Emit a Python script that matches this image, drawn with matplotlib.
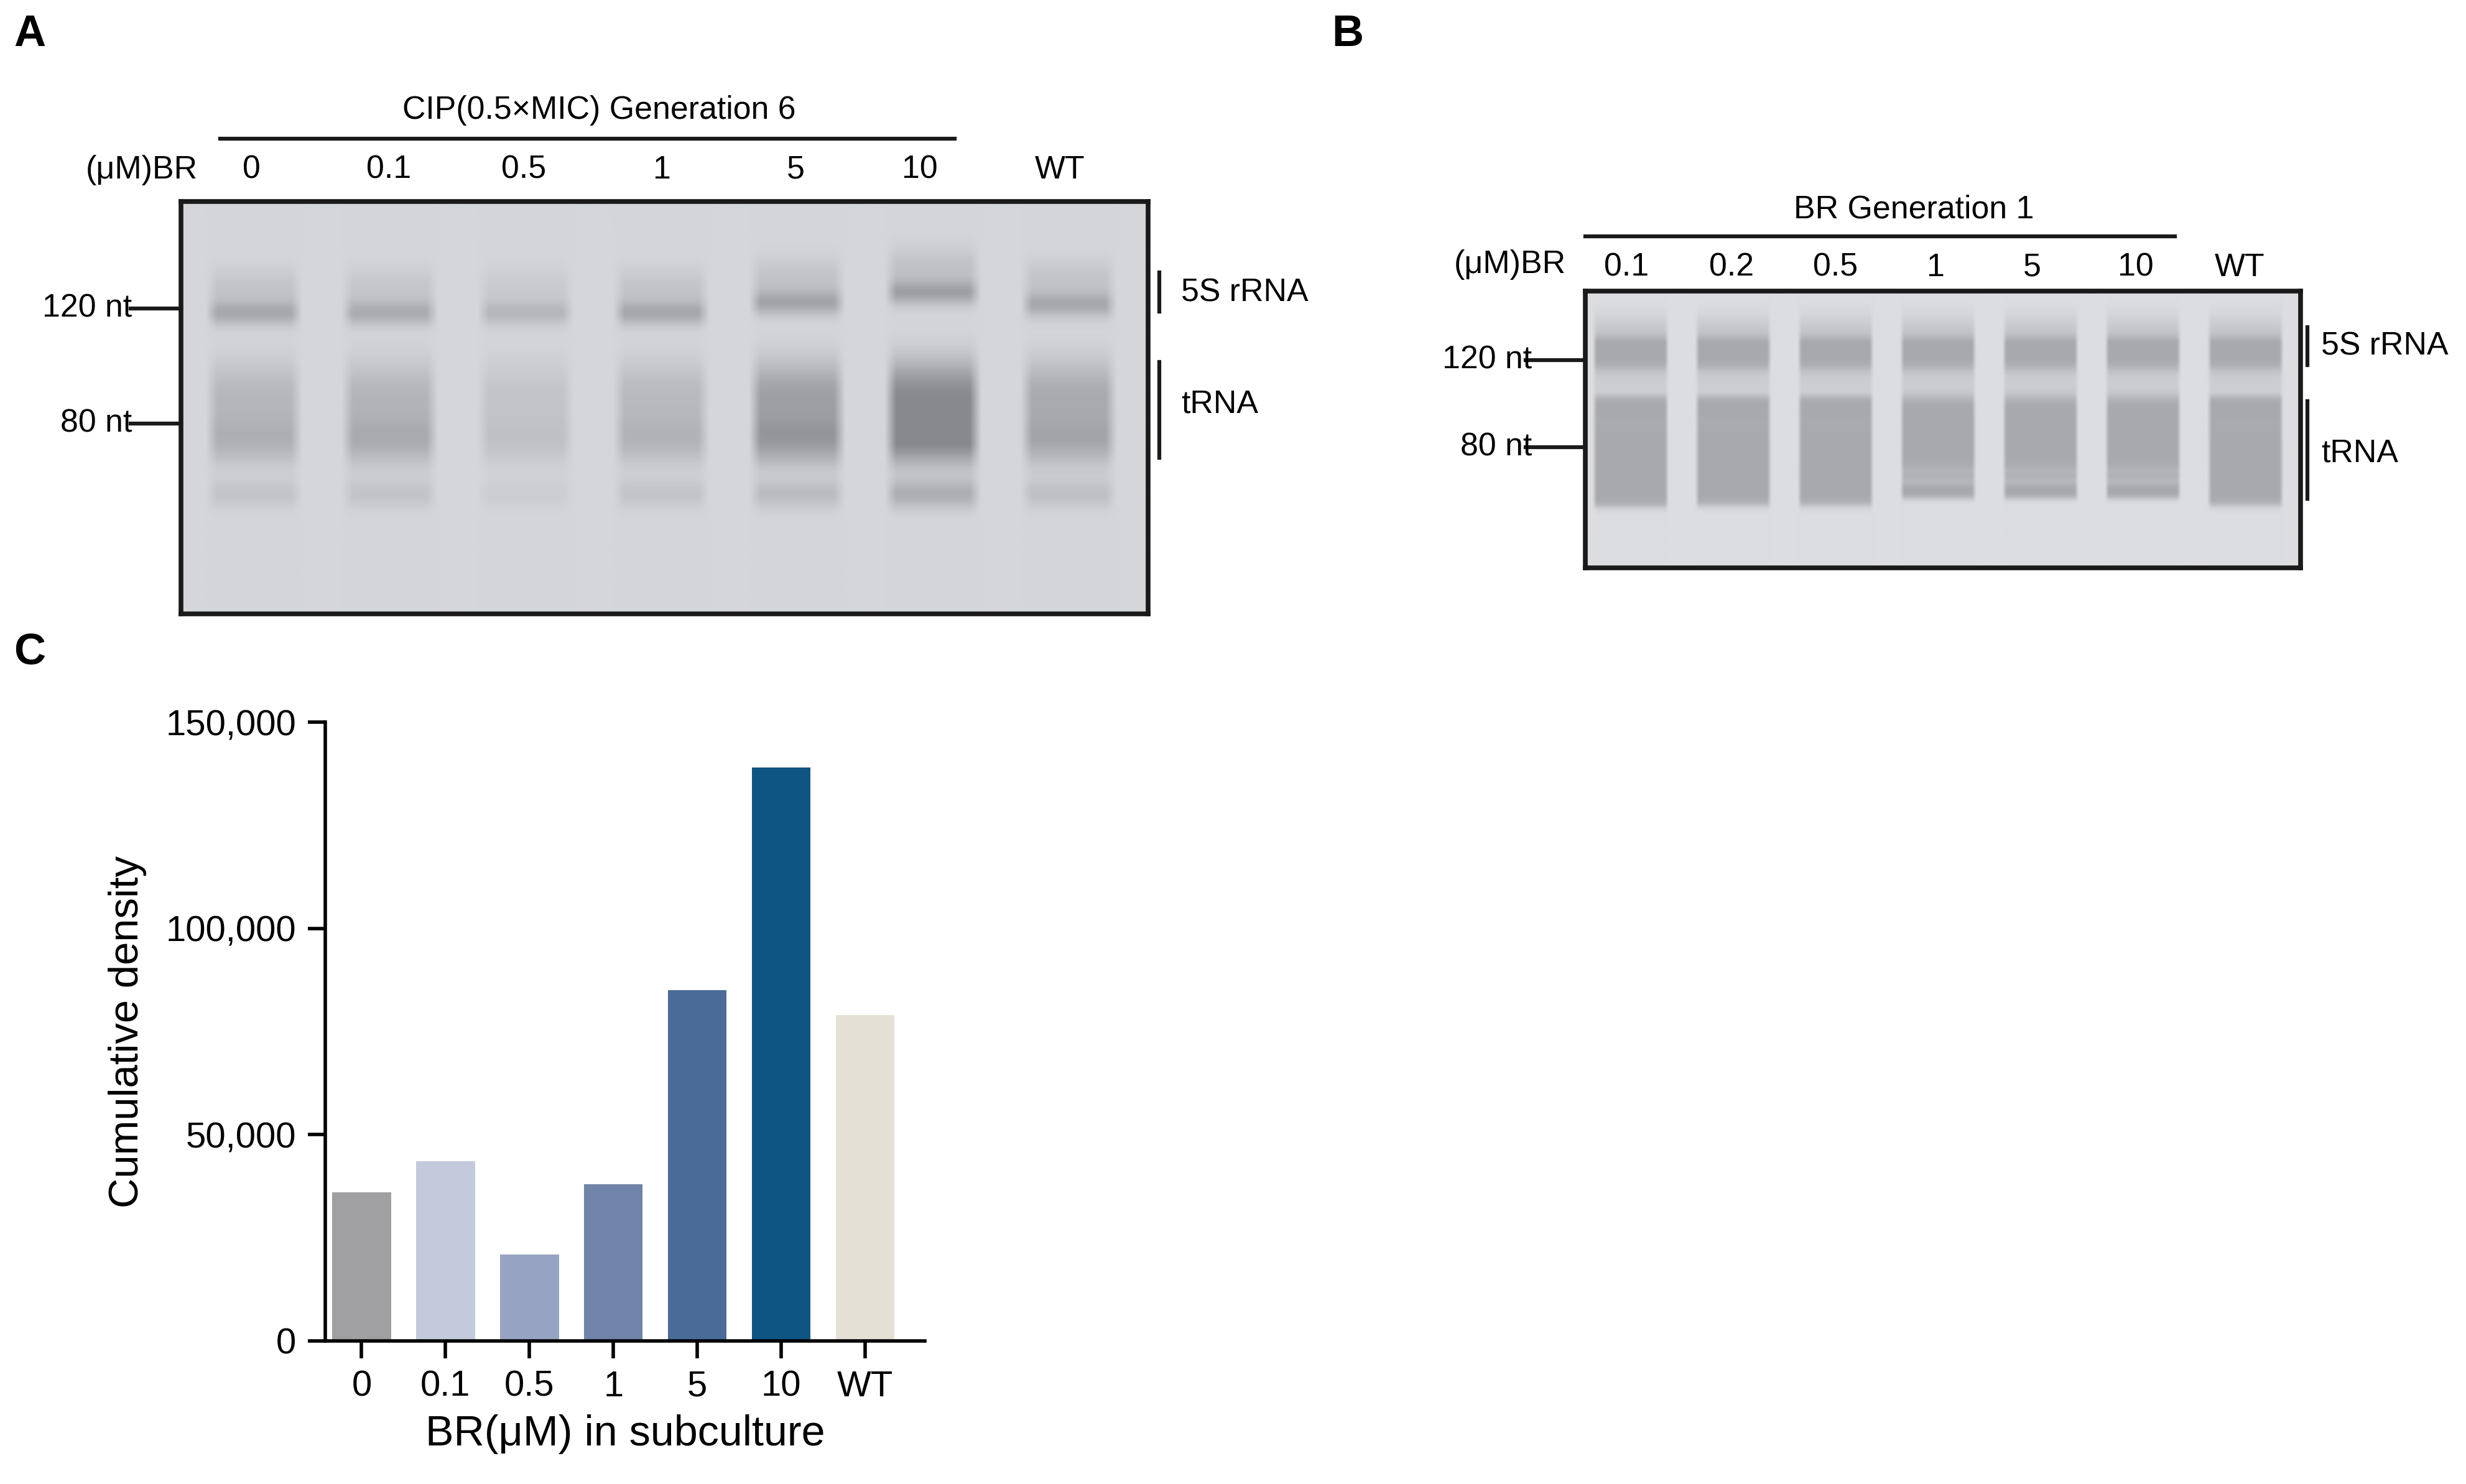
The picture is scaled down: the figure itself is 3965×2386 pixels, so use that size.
import numpy as np
import matplotlib.pyplot as plt

plt.rcParams['font.family'] = ['Liberation Sans', 'DejaVu Sans']

# ---- data ----
# panel C
bar_labels = ['0', '0.1', '0.5', '1', '5', '10', 'WT']
bar_values = [36000, 43500, 21000, 38000, 85000, 139000, 79000]
bar_colors = ['#a0a0a2', '#c4c9dc', '#97a3c2', '#7084a9', '#4a6b98', '#0f5584', '#e4e0d6']
y_ticks = [0, 50000, 100000, 150000]

# panel A gel: lane labels and band strengths (5S, tRNA upper, tRNA lower, low band)
gelA_lanes = ['0', '0.1', '0.5', '1', '5', '10', 'WT']
gelA_5s_pos = [0.27, 0.27, 0.27, 0.27, 0.245, 0.22, 0.25]
gelA_5s = [0.60, 0.55, 0.40, 0.60, 0.65, 0.70, 0.60]
gelA_t1 = [0.30, 0.32, 0.18, 0.28, 0.55, 0.80, 0.45]
gelA_t2 = [0.40, 0.45, 0.22, 0.36, 0.65, 0.85, 0.50]
gelA_low = [0.25, 0.25, 0.12, 0.25, 0.35, 0.55, 0.30]

# panel B gel: lane labels and bottom edge of tRNA smear
gelB_lanes = ['0.1', '0.2', '0.5', '1', '5', '10', 'WT']
gelB_bottom = [0.78, 0.775, 0.775, 0.75, 0.75, 0.75, 0.775]
gelB_split = [False, False, False, True, True, True, False]

W, H = 1568, 943
S = 3965 / W
def fs(px):
    return px * S * 0.72

fig = plt.figure(figsize=(39.65, 23.86), dpi=100)

def frac_box(x0, y0, x1, y1):
    return [x0 / W, 1 - y1 / H, (x1 - x0) / W, (y1 - y0) / H]

def lane_mask(xx, c, w, soft=0.006):
    return np.clip((w / 2 - np.abs(xx - c)) / soft, 0, 1)

def smooth_step(yy, a, b, soft=0.012):
    return 1 / (1 + np.exp(-(yy - a) / soft)) * 1 / (1 + np.exp((yy - b) / soft))

# ---- gel A ----
ny, nx = 400, 800
yy, xx = np.mgrid[0:1:ny * 1j, 0:1:nx * 1j]
img = np.full((ny, nx), 212.0)
for i in range(7):
    c = 0.075 + i * 0.1405
    m = lane_mask(xx, c, 0.1, 0.012)
    p5 = gelA_5s_pos[i]
    prof = (gelA_5s[i] * np.exp(-((yy - p5) / 0.03) ** 2)
            + 0.4 * gelA_5s[i] * np.exp(-((yy - p5 + 0.06) / 0.05) ** 2)
            + gelA_t1[i] * np.exp(-((yy - 0.46) / 0.08) ** 2)
            + gelA_t2[i] * np.exp(-((yy - 0.58) / 0.06) ** 2)
            + 0.4 * gelA_t2[i] * np.exp(-((yy - 0.52) / 0.1) ** 2)
            + gelA_low[i] * np.exp(-((yy - 0.71) / 0.035) ** 2))
    img -= 70 * np.clip(prof, 0, 1.1) * m
axA = fig.add_axes(frac_box(115, 128, 730, 390))
rgb = np.stack([img, img + 2, img + 6], axis=-1) / 255
axA.imshow(np.clip(rgb, 0, 1), aspect='auto', extent=(0, 1, 1, 0))
axA.set_xticks([]); axA.set_yticks([])
for sp in axA.spines.values():
    sp.set_linewidth(5.5)
    sp.set_color('#1a1a1a')

# ---- gel B ----
img = np.full((ny, nx), 220.0)
for i in range(7):
    c = 0.063 + i * 0.1433
    m = lane_mask(xx, c, 0.107)
    prof = (smooth_step(yy, 0.17, 0.285) + 0.45 * smooth_step(yy, 0.10, 0.18, 0.02)
            + 0.3 * smooth_step(yy, 0.29, 0.37))
    if gelB_split[i]:
        prof += smooth_step(yy, 0.38, 0.66) + 0.6 * smooth_step(yy, 0.66, 0.70, 0.006) \
            + smooth_step(yy, 0.70, gelB_bottom[i], 0.006)
    else:
        prof += smooth_step(yy, 0.38, gelB_bottom[i], 0.008) - 0.05 * smooth_step(yy, 0.45, 0.5)
    img -= 52 * np.clip(prof, 0, 1) * m
axB = fig.add_axes(frac_box(1008, 185, 1463, 361))
rgb = np.stack([img, img + 1, img + 4], axis=-1) / 255
axB.imshow(np.clip(rgb, 0, 1), aspect='auto', extent=(0, 1, 1, 0))
axB.set_xticks([]); axB.set_yticks([])
for sp in axB.spines.values():
    sp.set_linewidth(5.5)
    sp.set_color('#1a1a1a')

# ---- panel C ----
axC = fig.add_axes(frac_box(207, 459, 588, 852))
x = np.arange(len(bar_values))
axC.bar(x, bar_values, width=0.7, color=bar_colors)
axC.set_xlim(-0.43, 6.71)
axC.set_ylim(0, 150000)
axC.set_yticks(y_ticks)
axC.set_yticklabels([f'{v:,}' for v in y_ticks])
axC.set_xticks(x)
axC.set_xticklabels(bar_labels)
axC.tick_params(labelsize=fs(23), width=4, length=20, direction='out', pad=14)
for s in ['top', 'right']:
    axC.spines[s].set_visible(False)
for s in ['left', 'bottom']:
    axC.spines[s].set_linewidth(4)
axC.set_ylabel('Cumulative density', fontsize=fs(26.5), labelpad=22)
axC.set_xlabel('BR(μM) in subculture', fontsize=fs(27), labelpad=12)

# ---- overlay text ----
ov = fig.add_axes([0, 0, 1, 1], zorder=5)
ov.set_xlim(0, W); ov.set_ylim(H, 0); ov.axis('off')
lw = 4.5
t = fs(20.5)
for lab, px, py in [('A', 19, 22), ('B', 857, 22), ('C', 19, 415)]:
    ov.text(px, py, lab, fontsize=fs(28), fontweight='bold', ha='center', va='center')

# A labels
ov.plot([140, 607], [88, 88], color='#1a1a1a', lw=lw)
ov.text(381, 70, 'CIP(0.5×MIC) Generation 6', fontsize=t, ha='center', va='center')
ov.text(90, 108, '(μM)BR', fontsize=t, ha='center', va='center')
for lab, px in zip(gelA_lanes, [160, 247, 333, 421, 506, 585, 674]):
    ov.text(px, 108, lab, fontsize=t, ha='center', va='center')
for lab, py in [('120 nt', 196), ('80 nt', 269)]:
    ov.text(84, py, lab, fontsize=t, ha='right', va='center')
    ov.plot([83, 115], [py, py], color='#1a1a1a', lw=lw)
ov.plot([737, 737], [173, 198], color='#1a1a1a', lw=lw)
ov.text(751, 186, '5S rRNA', fontsize=t, ha='left', va='center')
ov.plot([737, 737], [230, 291], color='#1a1a1a', lw=lw)
ov.text(751, 257, 'tRNA', fontsize=t, ha='left', va='center')

# B labels
ov.plot([1008, 1383], [150, 150], color='#1a1a1a', lw=lw)
ov.text(1217, 133, 'BR Generation 1', fontsize=t, ha='center', va='center')
ov.text(960, 168, '(μM)BR', fontsize=t, ha='center', va='center')
for lab, px in zip(gelB_lanes, [1034, 1101, 1167, 1231, 1292, 1358, 1424]):
    ov.text(px, 170, lab, fontsize=t, ha='center', va='center')
for lab, py in [('120 nt', 229), ('80 nt', 284)]:
    ov.text(974, py, lab, fontsize=t, ha='right', va='center')
    ov.plot([970, 1008], [py, py], color='#1a1a1a', lw=lw)
ov.plot([1467, 1467], [208, 232], color='#1a1a1a', lw=lw)
ov.text(1476, 220, '5S rRNA', fontsize=t, ha='left', va='center')
ov.plot([1467, 1467], [255, 317], color='#1a1a1a', lw=lw)
ov.text(1476, 288, 'tRNA', fontsize=t, ha='left', va='center')

fig.savefig('out.png', dpi=100, facecolor='white')
